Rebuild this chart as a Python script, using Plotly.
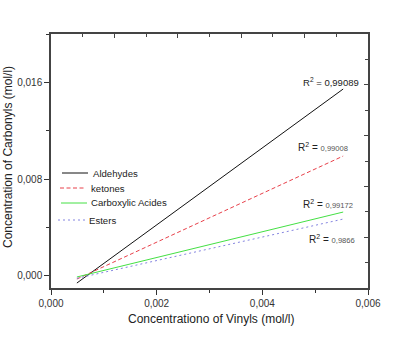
import plotly.graph_objects as go

# Data
x_vals = [0.00049, 0.00553]
series_names = ["Aldehydes", "ketones", "Carboxylic Acides", "Esters"]
aldehydes = [-0.00059, 0.01545]
ketones = [-0.00026, 0.00991]
carboxylic = [-0.00009, 0.00528]
esters = [-0.00020, 0.00470]
r2_labels = ["0,99089", "0,99008", "0,99172", "0,9866"]
r2_x = [0.004732, 0.004637, 0.004732, 0.004845]
r2_y = [0.01603, 0.010657, 0.005945, 0.003051]
x_title = "Concentrationo of Vinyls (mol/l)"
y_title = "Concentration of Carbonyls (mol/l)"

colors = ["#111111", "#e8404a", "#44e044", "#8484e0"]
dashes = ["solid", "4px,2.5px", "solid", "2px,3px"]
values = [aldehydes, ketones, carboxylic, esters]

# plot area geometry in page pixels
L, R, T, B = 51, 368, 34, 288
W, H = 411, 339

def px(xp):
    return (xp - L) / (R - L)

def py(yp):
    return (B - yp) / (B - T)

fig = go.Figure()
for name, yv, c, d in zip(series_names, values, colors, dashes):
    fig.add_trace(go.Scatter(x=x_vals, y=yv, mode="lines", name=name,
                             line=dict(color=c, dash=d, width=1), showlegend=False))

font_main = "Arial, Liberation Sans"
for i, (lab, ax_, ay_) in enumerate(zip(r2_labels, r2_x, r2_y)):
    if i == 0:
        txt = f"R<sup>2</sup> = {lab}"
        fsz = 9.5
    else:
        txt = f"R<sup>2</sup> = <span style='font-size:7.6px;color:#555'>{lab}</span>"
        fsz = 10
    fig.add_annotation(x=ax_, y=ay_, xref="x", yref="y", text=txt, showarrow=False,
                       xanchor="left", yanchor="middle",
                       font=dict(family=font_main, size=fsz, color="#222"))

# manual legend (tighter spacing than plotly's built-in legend)
leg_y = [173, 188, 203, 220]
leg_x0 = [62, 60, 61, 58]
leg_x1 = [88, 86, 87, 86]
leg_tx = [91, 89, 89, 87]
for name, c, d, yy, x0, x1, tx in zip(series_names, colors, dashes, leg_y, leg_x0, leg_x1, leg_tx):
    fig.add_shape(type="line", xref="paper", yref="paper",
                  x0=px(x0), x1=px(x1), y0=py(yy), y1=py(yy),
                  line=dict(color=c, dash=d, width=1))
    fig.add_annotation(xref="paper", yref="paper", x=px(tx), y=py(yy), text=name,
                       xanchor="left", yanchor="middle", showarrow=False,
                       font=dict(family=font_main, size=9.6, color="#222"))

# axis titles as annotations (exact placement)
fig.add_annotation(xref="paper", yref="paper", x=px(211), y=py(319), text=x_title,
                   showarrow=False, xanchor="center", yanchor="middle",
                   font=dict(family=font_main, size=12, color="#222"))
fig.add_annotation(xref="paper", yref="paper", x=px(8), y=py(157), text=y_title,
                   showarrow=False, xanchor="center", yanchor="middle", textangle=-90,
                   font=dict(family=font_main, size=12, color="#222"))

axis_font = dict(family=font_main, size=10, color="#333")
fig.update_layout(
    width=W, height=H,
    margin=dict(l=L, r=W - R, t=T, b=H - B),
    paper_bgcolor="white", plot_bgcolor="white",
    separators=",.",
    showlegend=False,
    xaxis=dict(range=[0, 0.006], dtick=0.002, tick0=0, tickformat=".3f",
               ticks="outside", ticklen=5, tickwidth=1, tickcolor="#333",
               minor=dict(dtick=0.001, ticks="outside", ticklen=3, tickcolor="#333"),
               showline=True, linecolor="#444", linewidth=1.5, mirror=True,
               showgrid=False, zeroline=False, tickfont=axis_font, automargin=False),
    yaxis=dict(range=[-0.001, 0.020], dtick=0.008, tick0=0, tickformat=".3f",
               ticks="outside", ticklen=5, tickwidth=1, tickcolor="#333",
               minor=dict(dtick=0.004, ticks="outside", ticklen=3, tickcolor="#333"),
               showline=True, linecolor="#444", linewidth=1.5, mirror=True,
               showgrid=False, zeroline=False, tickfont=axis_font, automargin=False),
    xaxis2=dict(range=[0, 10], overlaying="x", side="top", dtick=2, tick0=0,
                ticks="inside", ticklen=4, tickcolor="#444", showticklabels=False,
                minor=dict(dtick=1, ticks="inside", ticklen=3, tickcolor="#444"),
                showgrid=False, zeroline=False, showline=False, automargin=False),
    yaxis2=dict(range=[0, 10], overlaying="y", side="right", dtick=2, tick0=0,
                ticks="inside", ticklen=4, tickcolor="#444", showticklabels=False,
                minor=dict(dtick=1, ticks="inside", ticklen=3, tickcolor="#444"),
                showgrid=False, zeroline=False, showline=False, automargin=False),
)
fig.add_trace(go.Scatter(x=[None], y=[None], xaxis="x2", yaxis="y2",
                         showlegend=False, hoverinfo="skip"))

fig.write_html("out.html", config={"displayModeBar": False},
               post_script="document.body.style.margin='0';document.body.style.padding='0';")
